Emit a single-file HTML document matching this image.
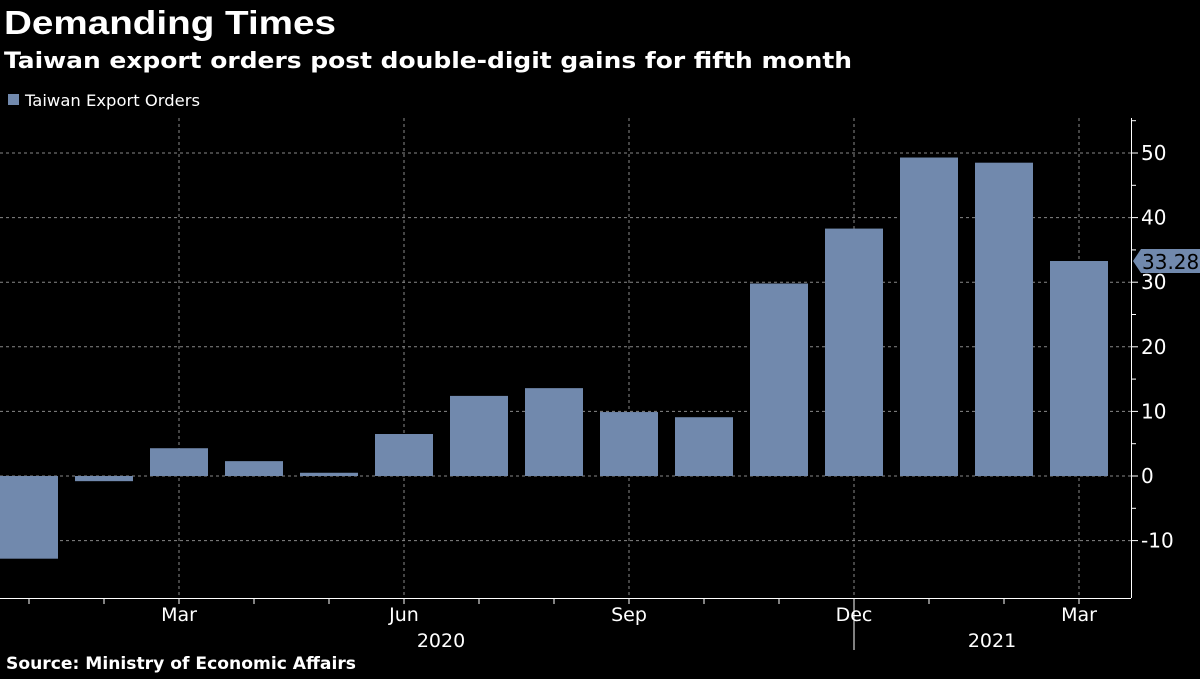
<!DOCTYPE html>
<html><head><meta charset="utf-8"><style>
body{margin:0;background:#000;width:1200px;height:674px;overflow:hidden;font-family:"Liberation Sans","DejaVu Sans",sans-serif;}
</style></head><body>
<svg id="chart" width="1200" height="674" xmlns="http://www.w3.org/2000/svg">
<text x="4" y="34" fill="#fff" font-size="33" font-weight="bold" font-family="Liberation Sans, sans-serif" textLength="332" lengthAdjust="spacingAndGlyphs">Demanding Times</text>
<text x="4" y="68" fill="#fff" font-size="22" font-weight="bold" font-family="DejaVu Sans, sans-serif" textLength="848" lengthAdjust="spacingAndGlyphs">Taiwan export orders post double-digit gains for fifth month</text>
<rect x="8" y="94" width="11" height="11" fill="#7189ad"/>
<text x="25" y="106" fill="#fff" font-size="16" font-family="DejaVu Sans, sans-serif" textLength="175" lengthAdjust="spacingAndGlyphs">Taiwan Export Orders</text>
<text x="6" y="669" fill="#fff" font-size="17" font-weight="bold" font-family="DejaVu Sans, sans-serif" textLength="350" lengthAdjust="spacingAndGlyphs">Source: Ministry of Economic Affairs</text>
<g id="grid"></g><g id="bars"></g><g id="axes"></g>
</svg>
<script>
const months=["Jan","Feb","Mar","Apr","May","Jun","Jul","Aug","Sep","Oct","Nov","Dec","Jan","Feb","Mar"];
const values=[-12.8,-0.8,4.3,2.3,0.5,6.5,12.4,13.6,9.9,9.1,29.8,38.3,49.3,48.5,33.28];
const yTicks=[-10,0,10,20,30,40,50];
const xLabels=["Mar","Jun","Sep","Dec","Mar"];
const xLabelIdx=[2,5,8,11,14];
const years=["2020","2021"];
const NS="http://www.w3.org/2000/svg";
const y=v=>476-v*6.46;
const x=i=>29+i*75;
function mk(t,a,p){const e=document.createElementNS(NS,t);for(const k in a)e.setAttribute(k,a[k]);p.appendChild(e);return e;}
const grid=document.getElementById('grid'),bars=document.getElementById('bars'),axes=document.getElementById('axes');
yTicks.forEach(v=>{
 const l=mk('line',{x1:0,x2:1131,y1:y(v),y2:y(v),stroke:'#888','stroke-dasharray':'3,3','stroke-width':1},grid);
 
 
 const t=mk('line',{x1:1131,x2:1138,y1:y(v),y2:y(v),stroke:'#fff'},axes);
 
 
 const tx=mk('text',{x:1141,y:y(v)+7,fill:'#fff','font-size':20,'font-family':'DejaVu Sans, sans-serif'},axes);
 tx.textContent=v;
 
 
 const m=mk('line',{x1:1131,x2:1136,y1:y(v+5),y2:y(v+5),stroke:'#fff'},axes);
 
 
});
xLabelIdx.forEach((i,k)=>{
 const l=mk('line',{x1:x(i),x2:x(i),y1:118,y2:598,stroke:'#888','stroke-dasharray':'3,3'},grid);
 
 
 const t=mk('text',{x:x(i),y:621,fill:'#fff','font-size':19,'text-anchor':'middle','font-family':'DejaVu Sans, sans-serif'},axes);
 t.textContent=xLabels[k];
 
 
});
values.forEach((v,i)=>{
 const b=mk('rect',{x:x(i)-29,width:58,y:Math.min(y(v),y(0)),height:Math.abs(y(v)-y(0)),fill:'#7189ad'},bars);
 
 
 const tk=mk('line',{x1:x(i),x2:x(i),y1:598,y2:604,stroke:'#fff'},axes);
 
 
});
const ax=mk('line',{x1:0,x2:1131,y1:598.5,y2:598.5,stroke:'#fff'},axes);


const ay=mk('line',{x1:1131.5,x2:1131.5,y1:118,y2:598,stroke:'#fff'},axes);


const sep=mk('line',{x1:x(11),x2:x(11),y1:598,y2:650,stroke:'#fff'},axes);


[[441,years[0]],[992,years[1]]].forEach(([px,t])=>{
 const e=mk('text',{x:px,y:647,fill:'#fff','font-size':19,'text-anchor':'middle','font-family':'DejaVu Sans, sans-serif'},axes);
 e.textContent=t;
 
 
});
const last=values[values.length-1],ly=y(last);
const tag=mk('path',{d:`M1133 ${ly} L1141 ${ly-12} L1200 ${ly-12} L1200 ${ly+12} L1141 ${ly+12} Z`,fill:'#7189ad'},axes);


const tt=mk('text',{x:1142,y:ly+8,fill:'#000','font-size':20,'font-family':'DejaVu Sans, sans-serif'},axes);
tt.textContent=last.toFixed(2);


</script>
</body></html>
